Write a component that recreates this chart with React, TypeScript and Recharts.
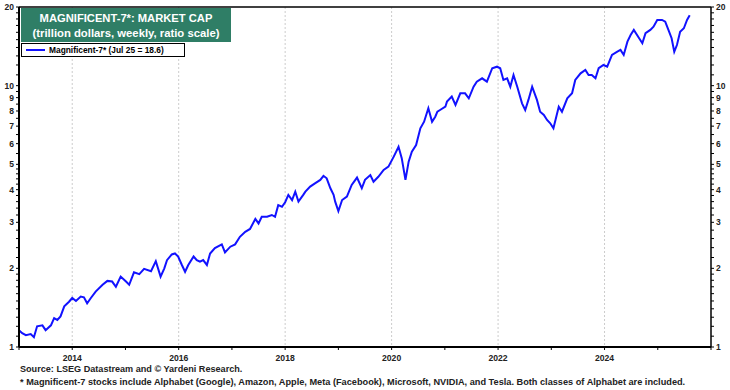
import { LineChart, Line, XAxis, YAxis, CartesianGrid, ReferenceLine } from 'recharts'

const FONT = '"Liberation Sans", Arial, sans-serif'

// weekly-ish readings, decimal years
const DATES = [
    2013.00, 2013.06, 2013.13, 2013.22, 2013.28, 2013.34, 2013.44, 2013.50, 2013.60, 2013.66,
    2013.72, 2013.78, 2013.85, 2013.94, 2014.00, 2014.07, 2014.16, 2014.22, 2014.28, 2014.35,
    2014.44, 2014.57, 2014.66, 2014.75, 2014.82, 2014.91, 2015.01, 2015.07, 2015.16, 2015.26,
    2015.35, 2015.48, 2015.57, 2015.66, 2015.73, 2015.78, 2015.87, 2015.93, 2015.99, 2016.06,
    2016.12, 2016.18, 2016.28, 2016.34, 2016.40, 2016.46, 2016.53, 2016.59, 2016.68, 2016.81,
    2016.87, 2016.97, 2017.06, 2017.15, 2017.25, 2017.34, 2017.44, 2017.50, 2017.56, 2017.66,
    2017.75, 2017.81, 2017.87, 2017.94, 2018.00, 2018.06, 2018.13, 2018.19, 2018.25, 2018.34,
    2018.38, 2018.47, 2018.56, 2018.66, 2018.72, 2018.78, 2018.85, 2018.91, 2018.94, 2019.00,
    2019.07, 2019.16, 2019.25, 2019.35, 2019.44, 2019.50, 2019.60, 2019.66, 2019.75, 2019.85,
    2019.94, 2020.04, 2020.13, 2020.19, 2020.26, 2020.32, 2020.38, 2020.46, 2020.54, 2020.61,
    2020.69, 2020.76, 2020.82, 2020.86, 2020.91, 2021.01, 2021.04, 2021.13, 2021.20, 2021.29,
    2021.38, 2021.45, 2021.54, 2021.60, 2021.70, 2021.79, 2021.89, 2021.98, 2022.04, 2022.10,
    2022.17, 2022.23, 2022.29, 2022.36, 2022.45, 2022.51, 2022.57, 2022.64, 2022.73, 2022.79,
    2022.86, 2022.92, 2022.98, 2023.04, 2023.14, 2023.20, 2023.30, 2023.39, 2023.45, 2023.55,
    2023.64, 2023.70, 2023.76, 2023.83, 2023.89, 2023.98, 2024.05, 2024.14, 2024.24, 2024.30,
    2024.36, 2024.43, 2024.49, 2024.55, 2024.65, 2024.71, 2024.77, 2024.86, 2024.92, 2024.99,
    2025.08, 2025.14, 2025.20, 2025.26, 2025.31, 2025.36, 2025.42, 2025.49, 2025.55, 2025.60,
]

// market cap, trillion dollars
const MARKET_CAP = [
    1.16, 1.13, 1.11, 1.12, 1.09, 1.20, 1.21, 1.16, 1.21, 1.29,
    1.27, 1.31, 1.43, 1.49, 1.54, 1.50, 1.56, 1.55, 1.47, 1.54,
    1.63, 1.73, 1.79, 1.78, 1.70, 1.86, 1.78, 1.73, 1.93, 1.90,
    1.99, 1.95, 2.13, 1.86, 2.00, 2.15, 2.26, 2.28, 2.22, 2.06,
    1.94, 2.06, 2.22, 2.15, 2.12, 2.15, 2.06, 2.28, 2.39, 2.47,
    2.30, 2.42, 2.47, 2.64, 2.76, 2.83, 3.09, 2.97, 3.15, 3.15,
    3.20, 3.15, 3.49, 3.44, 3.58, 3.82, 3.65, 3.93, 3.60, 3.82,
    3.93, 4.11, 4.23, 4.36, 4.52, 4.42, 4.05, 3.82, 3.60, 3.31,
    3.65, 3.76, 4.17, 4.45, 4.05, 4.36, 4.55, 4.29, 4.48, 4.76,
    4.90, 5.35, 5.84, 5.28, 4.36, 5.12, 5.59, 5.93, 6.87, 7.28,
    8.20, 7.28, 7.61, 7.95, 8.07, 8.31, 8.69, 9.08, 8.44, 9.35,
    9.35, 8.95, 9.91, 10.36, 10.67, 10.36, 11.66, 11.82, 11.66, 10.52,
    10.67, 9.91, 10.99, 9.91, 8.56, 8.07, 8.82, 9.91, 8.82, 7.95,
    7.73, 7.39, 7.18, 6.87, 8.31, 7.95, 8.95, 9.35, 10.52, 11.15,
    11.48, 10.99, 10.99, 10.67, 11.66, 12.00, 11.82, 13.11, 13.49, 13.70,
    13.11, 14.74, 15.63, 16.34, 15.19, 14.53, 15.87, 16.34, 16.82, 17.84,
    17.84, 17.58, 16.34, 15.19, 13.49, 14.31, 16.09, 16.58, 17.84, 18.6,
]

const YEAR_TICKS = [2013, 2014, 2015, 2016, 2017, 2018, 2019, 2020, 2021, 2022, 2023, 2024, 2025, 2026]
const YEAR_LABELS = [2014, 2016, 2018, 2020, 2022, 2024]

const Y_LABELS = [1, 2, 3, 4, 5, 6, 7, 8, 9, 10, 20]
const Y_TICKS = [
    1, 1.1, 1.2, 1.3, 1.4, 1.5, 1.6, 1.7, 1.8, 1.9,
    2, 2.2, 2.4, 2.6, 2.8, 3, 3.2, 3.4, 3.6, 3.8, 4, 4.2, 4.4, 4.6, 4.8,
    5, 5.5, 6, 6.5, 7, 7.5, 8, 8.5, 9, 9.5, 10,
    11, 12, 13, 14, 15, 16, 17, 18, 19, 20,
]
const Y_GRID = [2, 3, 4, 5, 6, 7, 8, 9, 10]

const data = DATES.map((t, i) => ({ t, cap: MARKET_CAP[i] }))

function YTick(props: any) {
    const { x, y, payload, textAnchor } = props
    if (!Y_LABELS.includes(payload.value)) return <g />
    return (
        <text x={x} y={y} dy={3} textAnchor={textAnchor} fontSize={8.5} fontWeight='bold'
            fill='#222' fontFamily={FONT}>
            {payload.value}
        </text>
    )
}

function XTick(props: any) {
    const { x, y, payload } = props
    if (!YEAR_LABELS.includes(payload.value)) return <g />
    return (
        <text x={x} y={y} dy={9} textAnchor='middle' fontSize={8.6} fontWeight='bold'
            fill='#222' fontFamily={FONT}>
            {payload.value}
        </text>
    )
}

export default function App() {
    return (
        <div style={{ position: 'relative', width: 730, height: 390, background: '#fff', fontFamily: FONT }}>
            <style>{'body { margin: 0; }'}</style>
            <LineChart width={730} height={370} data={data} margin={{ top: 7, right: 0, bottom: 0, left: 0 }}>
                <CartesianGrid
                    stroke='#cccccc'
                    strokeDasharray='2 2'
                    horizontalValues={Y_GRID}
                    verticalValues={YEAR_LABELS}
                />
                <XAxis
                    dataKey='t'
                    type='number'
                    domain={[2013, 2026]}
                    ticks={YEAR_TICKS}
                    tick={<XTick />}
                    tickSize={3}
                    tickMargin={2}
                    height={23}
                    axisLine={{ stroke: '#000', strokeWidth: 2 }}
                    tickLine={{ stroke: '#000' }}
                    interval={0}
                />
                <YAxis
                    yAxisId='left'
                    scale='log'
                    domain={[1, 20]}
                    allowDataOverflow
                    ticks={Y_TICKS}
                    tick={<YTick />}
                    interval={0}
                    width={19}
                    tickSize={3}
                    tickMargin={2}
                    axisLine={{ stroke: '#000', strokeWidth: 2 }}
                    tickLine={{ stroke: '#000' }}
                />
                <YAxis
                    yAxisId='right'
                    orientation='right'
                    scale='log'
                    domain={[1, 20]}
                    allowDataOverflow
                    ticks={Y_TICKS}
                    tick={<YTick />}
                    interval={0}
                    width={19}
                    tickSize={3}
                    tickMargin={2}
                    axisLine={{ stroke: '#000', strokeWidth: 1.5 }}
                    tickLine={{ stroke: '#000' }}
                />
                <ReferenceLine yAxisId='left' y={20} stroke='#000' strokeWidth={1.5} />
                <Line
                    yAxisId='left'
                    type='linear'
                    dataKey='cap'
                    stroke='#1212ff'
                    strokeWidth={2}
                    dot={false}
                    isAnimationActive={false}
                />
            </LineChart>

            <div style={{
                position: 'absolute', left: 21, top: 8, width: 210, height: 34, background: '#2f7e66',
                color: '#fff', fontWeight: 'bold', textAlign: 'center',
            }}>
                <div style={{ fontSize: 11.2, lineHeight: '12px', marginTop: 4 }}>MAGNIFICENT-7*: MARKET CAP</div>
                <div style={{ fontSize: 11.3, lineHeight: '13px', marginTop: 3 }}>(trillion dollars, weekly, ratio scale)</div>
            </div>

            <div style={{
                position: 'absolute', left: 21, top: 43, width: 162, height: 12, background: '#fff',
                border: '1px solid #000', display: 'flex', alignItems: 'center',
            }}>
                <div style={{ width: 19, height: 2, background: '#1212ff', marginLeft: 4, marginRight: 4 }} />
                <div style={{ fontSize: 8.4, fontWeight: 'bold', color: '#000', whiteSpace: 'nowrap' }}>
                    Magnificent-7* (Jul 25 = 18.6)
                </div>
            </div>

            <div style={{ position: 'absolute', left: 20, top: 364, fontSize: 9.1, fontWeight: 'bold', color: '#222', whiteSpace: 'nowrap' }}>
                Source: LSEG Datastream and © Yardeni Research.
            </div>
            <div style={{ position: 'absolute', left: 20, top: 377, fontSize: 9.2, fontWeight: 'bold', color: '#222', whiteSpace: 'nowrap' }}>
                * Magnificent-7 stocks include Alphabet (Google), Amazon, Apple, Meta (Facebook), Microsoft, NVIDIA, and Tesla. Both classes of Alphabet are included.
            </div>
        </div>
    )
}
